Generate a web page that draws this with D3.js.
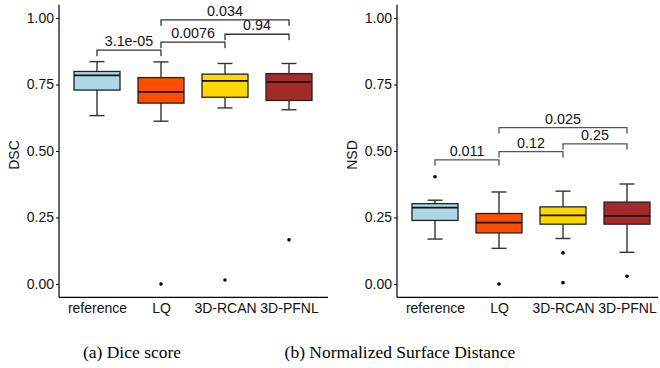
<!DOCTYPE html>
<html>
<head>
<meta charset="utf-8">
<script src="https://cdn.jsdelivr.net/npm/d3@7"></script>
<style>
  body { margin: 0; background: #fff; }
</style>
</head>
<body>
<div id="chart"></div>
<script>
// categories and colours
const categories = ["reference", "LQ", "3D-RCAN", "3D-PFNL"];
const fillColors = ["#ADD8E6", "#FF4E00", "#FFD700", "#A52A2A"];
const yTicks = [0, 0.25, 0.5, 0.75, 1.0];

// box stats: [lower whisker, q1, median, q3, upper whisker]
const dscStats = [
  [0.633, 0.729, 0.784, 0.799, 0.836],
  [0.612, 0.680, 0.722, 0.776, 0.835],
  [0.662, 0.702, 0.764, 0.789, 0.829],
  [0.655, 0.690, 0.760, 0.791, 0.829]
];
const dscOutliers = [[], [0.0], [0.015], [0.166]];
const dscBrackets = [
  { from: "reference", to: "LQ", y: 0.879, label: "3.1e-05" },
  { from: "LQ", to: "3D-RCAN", y: 0.909, label: "0.0076" },
  { from: "3D-RCAN", to: "3D-PFNL", y: 0.939, label: "0.94" },
  { from: "LQ", to: "3D-PFNL", y: 0.993, label: "0.034" }
];

const nsdStats = [
  [0.169, 0.239, 0.287, 0.302, 0.315],
  [0.134, 0.192, 0.231, 0.265, 0.346],
  [0.171, 0.225, 0.258, 0.290, 0.349],
  [0.119, 0.225, 0.256, 0.308, 0.376]
];
const nsdOutliers = [[0.403], [0.0], [0.117, 0.005], [0.029]];
const nsdBrackets = [
  { from: "reference", to: "LQ", y: 0.467, label: "0.011" },
  { from: "LQ", to: "3D-RCAN", y: 0.498, label: "0.12" },
  { from: "3D-RCAN", to: "3D-PFNL", y: 0.527, label: "0.25" },
  { from: "LQ", to: "3D-PFNL", y: 0.588, label: "0.025" }
];

const sans = "'Liberation Sans', Arial, sans-serif";
const serif = "'Liberation Serif', 'Times New Roman', serif";

const svg = d3.select("#chart").append("svg")
  .attr("width", 660)
  .attr("height", 368);

function drawPanel(opts) {
  const g = svg.append("g");
  const x = d3.scalePoint().domain(categories).range([opts.x0, opts.x1]);
  const y = d3.scaleLinear().domain([-0.05, 1.05]).range([297.3, 4.7]);
  const boxW = 46, capW = 15;

  // y axis
  const yAxis = g.append("g")
    .attr("transform", "translate(" + opts.axisX + ",0)")
    .call(d3.axisLeft(y).tickValues(yTicks).tickFormat(d3.format(".2f")).tickSize(3).tickPadding(2));
  yAxis.select(".domain").attr("d", "M0," + y(1.05) + "V" + y(-0.05)).attr("stroke", "#000").attr("stroke-width", 1.2);
  yAxis.selectAll(".tick line").attr("stroke", "#000");
  yAxis.selectAll(".tick text").attr("font-size", 14).attr("fill", "#111").style("font-family", sans);

  // x axis
  const xAxis = g.append("g")
    .attr("transform", "translate(0," + y(-0.05) + ")")
    .call(d3.axisBottom(x).tickSize(0).tickPadding(6));
  xAxis.select(".domain").attr("d", "M" + opts.axisX + ",0H" + opts.axisEnd).attr("stroke", "#000").attr("stroke-width", 1.2);
  xAxis.selectAll(".tick text").attr("font-size", 14).attr("fill", "#111").style("font-family", sans);

  // y label
  g.append("text")
    .attr("transform", "translate(" + opts.labelX + "," + ((y(1.05) + y(-0.05)) / 2 + 4) + ") rotate(-90)")
    .attr("text-anchor", "middle")
    .attr("font-size", 14)
    .attr("fill", "#111")
    .style("font-family", sans)
    .text(opts.yLabel);

  // boxes
  const boxes = g.selectAll(".box").data(opts.stats).enter().append("g").attr("class", "box");
  boxes.each(function(s, i) {
    const b = d3.select(this);
    const cx = x(categories[i]);
    // whiskers
    b.append("line").attr("x1", cx).attr("x2", cx).attr("y1", y(s[0])).attr("y2", y(s[1]))
      .attr("stroke", "#333").attr("stroke-width", 1.4);
    b.append("line").attr("x1", cx).attr("x2", cx).attr("y1", y(s[3])).attr("y2", y(s[4]))
      .attr("stroke", "#333").attr("stroke-width", 1.4);
    // caps
    [s[0], s[4]].forEach(v => {
      b.append("line").attr("x1", cx - capW / 2).attr("x2", cx + capW / 2).attr("y1", y(v)).attr("y2", y(v))
        .attr("stroke", "#333").attr("stroke-width", 1.4);
    });
    // box
    b.append("rect")
      .attr("x", cx - boxW / 2).attr("width", boxW)
      .attr("y", y(s[3])).attr("height", y(s[1]) - y(s[3]))
      .attr("fill", fillColors[i]).attr("stroke", "#222").attr("stroke-width", 1.3);
    // median
    b.append("line").attr("x1", cx - boxW / 2).attr("x2", cx + boxW / 2).attr("y1", y(s[2])).attr("y2", y(s[2]))
      .attr("stroke", "#111").attr("stroke-width", 1.8);
    // outliers
    opts.outliers[i].forEach(v => {
      b.append("circle").attr("cx", cx).attr("cy", y(v)).attr("r", 1.8).attr("fill", "#000");
    });
  });

  // significance brackets
  const tip = 0.0225;
  opts.brackets.forEach(br => {
    const xa = x(br.from), xb = x(br.to);
    g.append("path")
      .attr("d", "M" + xa + "," + y(br.y - tip) + "V" + y(br.y) + "H" + xb + "V" + y(br.y - tip))
      .attr("fill", "none").attr("stroke", opts.bracketColor).attr("stroke-width", 1.3);
    g.append("text")
      .attr("x", (xa + xb) / 2).attr("y", y(br.y) - 4)
      .attr("text-anchor", "middle")
      .attr("font-size", 14.3)
      .attr("fill", "#111")
      .style("font-family", sans)
      .text(br.label);
  });
}

drawPanel({ x0: 97, x1: 289, axisX: 59, axisEnd: 328, labelX: 19, yLabel: "DSC",
  stats: dscStats, outliers: dscOutliers, brackets: dscBrackets, bracketColor: "#333" });
drawPanel({ x0: 435, x1: 627, axisX: 397, axisEnd: 658, labelX: 357, yLabel: "NSD",
  stats: nsdStats, outliers: nsdOutliers, brackets: nsdBrackets, bracketColor: "#555" });

// captions
svg.append("text").attr("x", 132).attr("y", 358).attr("text-anchor", "middle")
  .style("font-family", serif).attr("font-size", 17.5).attr("fill", "#000")
  .text("(a) Dice score");
svg.append("text").attr("x", 400).attr("y", 358).attr("text-anchor", "middle")
  .style("font-family", serif).attr("font-size", 17.5).attr("fill", "#000")
  .text("(b) Normalized Surface Distance");
</script>
</body>
</html>
